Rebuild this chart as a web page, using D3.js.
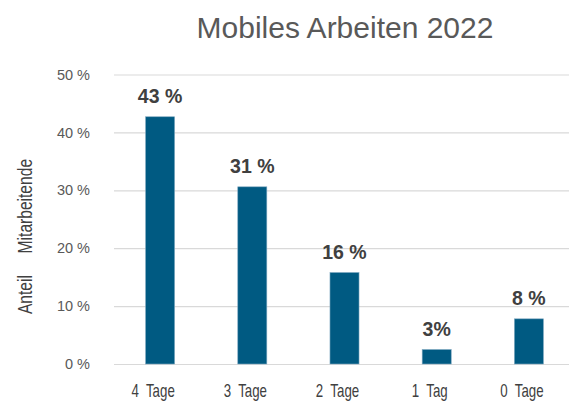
<!DOCTYPE html>
<html>
<head>
<meta charset="utf-8">
<script src="https://cdn.jsdelivr.net/npm/d3@7"></script>
<style>
  body { margin: 0; background: #fff; }
  text { font-family: "Liberation Sans", Arial, sans-serif; }
</style>
</head>
<body>
<div class="barchart"></div>
<script>
// data
const categories = ["4  Tage", "3  Tage", "2  Tage", "1  Tag", "0  Tage"];
const shares = [42.7, 30.6, 15.8, 2.5, 7.8];
const valueLabels = ["43 %", "31 %", "16 %", "3%", "8 %"];
const yTicks = [0, 10, 20, 30, 40, 50];

const W = 569, H = 403;
const margin = {top: 74.5, right: 0, bottom: 39, left: 114};
const width = 575 - margin.left,
  height = H - margin.top - margin.bottom;

const svg = d3.select(".barchart").append("svg")
  .attr("width", W)
  .attr("height", H);

const g = svg.append("g")
  .attr("transform", "translate(" + margin.left + "," + margin.top + ")");

// scales
const x = d3.scaleBand()
  .domain(categories)
  .range([0, width])
  .paddingInner(0.685)
  .paddingOuter(0.3425);

const y = d3.scaleLinear()
  .domain([0, 50])
  .range([height, 0]);

// gridlines + tick labels
const yAxis = d3.axisLeft(y)
  .tickValues(yTicks)
  .tickSize(-(W - margin.left))
  .tickPadding(24)
  .tickFormat(d => d + " %");

g.append("g")
  .attr("class", "y axis")
  .call(yAxis)
  .call(a => a.select(".domain").remove())
  .call(a => a.selectAll(".tick line").attr("stroke", "#d9d9d9").attr("stroke-width", 1.2))
  .call(a => a.selectAll(".tick text")
    .attr("fill", "#595959")
    .style("font-size", "14.5px")
    .style("font-family", "'Liberation Sans', Arial, sans-serif"));

// bars
g.selectAll(".bar")
  .data(shares)
  .enter().append("rect")
  .attr("class", "bar")
  .attr("x", (d, i) => x(categories[i]))
  .attr("width", x.bandwidth())
  .attr("y", d => y(d))
  .attr("height", d => height - y(d))
  .attr("fill", "#005a82")
  .attr("stroke", "#7fa8c0")
  .attr("stroke-width", 0.6);

// value labels
g.selectAll(".value")
  .data(shares)
  .enter().append("text")
  .attr("class", "value")
  .attr("x", (d, i) => x(categories[i]) + x.bandwidth() / 2)
  .attr("y", d => y(d) - 14)
  .attr("text-anchor", "middle")
  .attr("fill", "#404040")
  .style("font-size", "19.5px")
  .style("font-weight", "bold")
  .text((d, i) => valueLabels[i]);

// category labels (narrow font look)
g.selectAll(".cat")
  .data(categories)
  .enter().append("text")
  .attr("class", "cat")
  .attr("transform", d => "translate(" + (x(d) + x.bandwidth() / 2 - 7) + "," + (height + 33) + ") scale(0.76,1)")
  .attr("text-anchor", "middle")
  .attr("fill", "#404040")
  .style("font-size", "17.5px")
  .style("white-space", "pre")
  .text(d => d);

// axis title
svg.append("text")
  .attr("transform", "translate(32,236.5) rotate(-90) scale(0.78,1)")
  .attr("text-anchor", "middle")
  .attr("fill", "#404040")
  .style("font-size", "20px")
  .style("white-space", "pre")
  .text("Anteil     Mitarbeitende");

// chart title
svg.append("text")
  .attr("x", 345)
  .attr("y", 38)
  .attr("text-anchor", "middle")
  .attr("fill", "#595959")
  .style("font-size", "30px")
  .text("Mobiles Arbeiten 2022");
</script>
</body>
</html>
